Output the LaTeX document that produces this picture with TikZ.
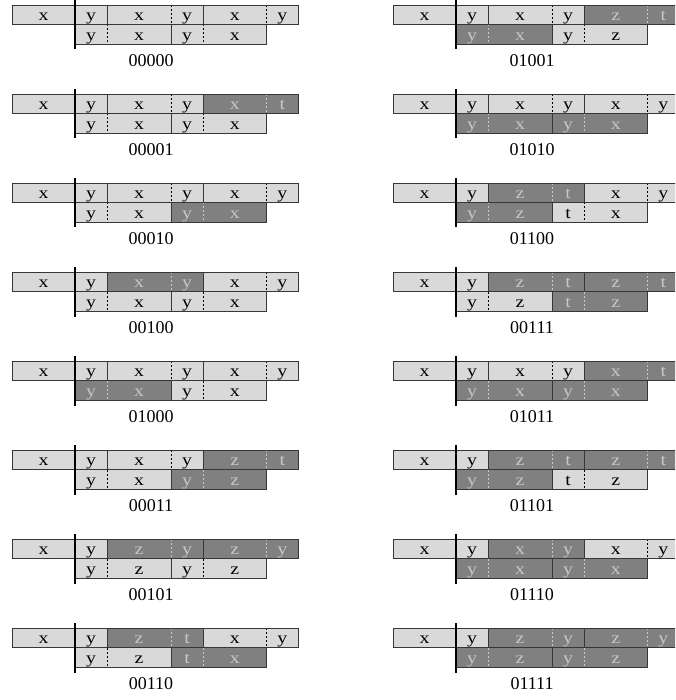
\documentclass[tikz,border=0pt]{standalone}
\usepackage{fontspec}
\setmainfont{Liberation Serif}
\newfontfamily\cellfont[FakeStretch=1.2]{Liberation Serif}
\definecolor{lg}{RGB}{217,217,217}
\definecolor{dg}{RGB}{128,128,128}
\definecolor{dt}{RGB}{200,200,200}
\definecolor{ec}{RGB}{55,55,55}
\tikzset{
  cell/.style={inner sep=0pt, outer sep=0pt, minimum height=19.5, anchor=north west,
    text height=14.8, text depth=2.7, font=\cellfont\fontsize{16.5}{16.5}\selectfont},
  shL/.style={fill=lg, text=black},
  shD/.style={fill=dg, text=dt},
  divL/.style={draw=black, line width=0.6pt, dash pattern=on 2pt off 2pt},
  divD/.style={draw=dt, line width=0.6pt, dash pattern=on 2pt off 2pt},
  edge/.style={draw=ec, line width=0.8pt},
  bar/.style={draw=black, line width=2.6pt},
  lbl/.style={anchor=base, inner sep=0pt, font=\fontsize{18}{18}\selectfont},
}
\newcommand\grp[8]{% name, x, y, w1, w2, shade, l1, l2
  \node[cell,sh#6,minimum width=#4] (#1a) at (#2,#3) {#7};
  \node[cell,sh#6,minimum width=#5] (#1b) at (#1a.north east) {#8};
  \draw[div#6] (#1a.north east) -- (#1a.south east);
  \draw[edge] (#1a.north west) rectangle (#1b.south east);
}
\newcommand\pnl[8]{% name, xoff, yoff, label, T2, T3, B1, B2
  \begin{scope}[shift={(#2,#3)}]
    \node[cell,shL,minimum width=63] (#1x) at (12,0) {x};
    \node[cell,shL,minimum width=32] (#1y) at (75,0) {y};
    \draw[edge] (#1x.north west) rectangle (#1x.south east);
    \draw[edge] (#1y.north west) rectangle (#1y.south east);
    \grp{#1t2}{107}{0}{64}{32}#5
    \grp{#1t3}{203}{0}{63.5}{31.5}#6
    \grp{#1b1}{75}{19.5}{32}{64}#7
    \grp{#1b2}{171}{19.5}{32}{63.5}#8
    \coordinate (#1bt) at (75,-5);
    \coordinate (#1bb) at (75,44.5);
    \draw[bar] (#1bt) -- (#1bb);
    \node[lbl] (#1l) at (151,61.7) {#4};
  \end{scope}}
\begin{document}
\begin{tikzpicture}[x=1pt,y=-1pt]
\useasboundingbox (0,0) rectangle (675,700);
\clip (0,0) rectangle (675,700);
\fill[white] (0,0) rectangle (675,700);
\pnl{a1}{0}{5}{00000}{{L}{x}{y}}{{L}{x}{y}}{{L}{y}{x}}{{L}{y}{x}}
\pnl{a2}{0}{94}{00001}{{L}{x}{y}}{{D}{x}{t}}{{L}{y}{x}}{{L}{y}{x}}
\pnl{a3}{0}{183}{00010}{{L}{x}{y}}{{L}{x}{y}}{{L}{y}{x}}{{D}{y}{x}}
\pnl{a4}{0}{272}{00100}{{D}{x}{y}}{{L}{x}{y}}{{L}{y}{x}}{{L}{y}{x}}
\pnl{a5}{0}{361}{01000}{{L}{x}{y}}{{L}{x}{y}}{{D}{y}{x}}{{L}{y}{x}}
\pnl{a6}{0}{450}{00011}{{L}{x}{y}}{{D}{z}{t}}{{L}{y}{x}}{{D}{y}{z}}
\pnl{a7}{0}{539}{00101}{{D}{z}{y}}{{D}{z}{y}}{{L}{y}{z}}{{L}{y}{z}}
\pnl{a8}{0}{628}{00110}{{D}{z}{t}}{{L}{x}{y}}{{L}{y}{z}}{{D}{t}{x}}
\pnl{b1}{381}{5}{01001}{{L}{x}{y}}{{D}{z}{t}}{{D}{y}{x}}{{L}{y}{z}}
\pnl{b2}{381}{94}{01010}{{L}{x}{y}}{{L}{x}{y}}{{D}{y}{x}}{{D}{y}{x}}
\pnl{b3}{381}{183}{01100}{{D}{z}{t}}{{L}{x}{y}}{{D}{y}{z}}{{L}{t}{x}}
\pnl{b4}{381}{272}{00111}{{D}{z}{t}}{{D}{z}{t}}{{L}{y}{z}}{{D}{t}{z}}
\pnl{b5}{381}{361}{01011}{{L}{x}{y}}{{D}{x}{t}}{{D}{y}{x}}{{D}{y}{x}}
\pnl{b6}{381}{450}{01101}{{D}{z}{t}}{{D}{z}{t}}{{D}{y}{z}}{{L}{t}{z}}
\pnl{b7}{381}{539}{01110}{{D}{x}{y}}{{L}{x}{y}}{{D}{y}{x}}{{D}{y}{x}}
\pnl{b8}{381}{628}{01111}{{D}{z}{y}}{{D}{z}{y}}{{D}{y}{z}}{{D}{y}{z}}
\end{tikzpicture}
\end{document}
